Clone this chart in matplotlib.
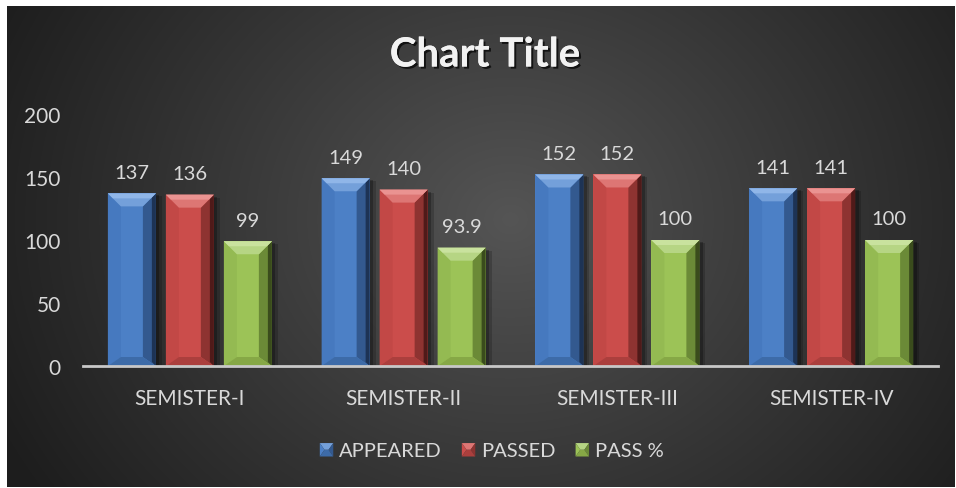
import numpy as np
import matplotlib
matplotlib.use("Agg")
import matplotlib.pyplot as plt
from matplotlib.patches import Polygon, Rectangle
from matplotlib.legend_handler import HandlerBase
import matplotlib.patheffects as pe

categories = ["SEMISTER-I", "SEMISTER-II", "SEMISTER-III", "SEMISTER-IV"]
appeared = [137, 149, 152, 141]
passed = [136, 140, 152, 141]
pass_pct = [99, 93.9, 100, 100]
series_names = ["APPEARED", "PASSED", "PASS %"]
yticks = [0, 50, 100, 150, 200]
title = "Chart Title"

FONT = ["Lato", "DejaVu Sans"]
plt.rcParams["font.family"] = FONT
TXT = "#d9d9d9"

palettes = [
    dict(face="#4c80c6", top="#74a0da", top2="#90b6e8", left="#4679bf", right="#33598f",
         outer="#1d3355", bottom="#3d6ba8"),
    dict(face="#cb4d4b", top="#dd7674", top2="#ea9391", left="#c24846", right="#8e3331",
         outer="#4f1a19", bottom="#ab3f3d"),
    dict(face="#9cc357", top="#b6d584", top2="#c9e29e", left="#94ba52", right="#6b8a37",
         outer="#3a4c1c", bottom="#86a846"),
]

W, H, DPI = 956, 489, 100
fig = plt.figure(figsize=(W / DPI, H / DPI), dpi=DPI, facecolor="white")

# background panel with radial gradient
bx0, by0, bx1, by1 = 7, 7, 955, 488
bg = fig.add_axes([bx0 / W, 1 - by1 / H, (bx1 - bx0) / W, (by1 - by0) / H])
bg.set_axis_off()
gh, gw = by1 - by0, bx1 - bx0
yy, xx = np.mgrid[0:gh, 0:gw]
cx, cy = 510 - bx0, 220 - by0
d = np.sqrt((xx - cx) ** 2 + ((yy - cy) * 1.15) ** 2)
t = np.clip(d / 560, 0, 1) ** 0.95
light = np.array([0x55, 0x55, 0x55]) / 255
dark = np.array([0x1e, 0x1e, 0x1e]) / 255
img = light[None, None, :] * (1 - t[..., None]) + dark[None, None, :] * t[..., None]
bg.imshow(img, aspect="auto", extent=[0, 1, 0, 1], origin="upper")
bg.set_xlim(0, 1); bg.set_ylim(0, 1)

# main axes
ax_l, ax_r, ax_top, ax_bot = 83, 938, 115, 367
ax = fig.add_axes([ax_l / W, 1 - ax_bot / H, (ax_r - ax_l) / W, (ax_bot - ax_top) / H])
ax.set_facecolor("none")
ax.set_ylim(0, 200)
ax.set_xlim(-0.5, len(categories) - 0.5)
for s in ["top", "right", "left"]:
    ax.spines[s].set_visible(False)
ax.spines["bottom"].set_color("#c8c8c8")
ax.spines["bottom"].set_linewidth(2)
ax.spines["bottom"].set_zorder(5)
ax.set_yticks(yticks)
ax.set_yticklabels([str(v) for v in yticks])
ax.tick_params(axis="y", length=0, pad=16, labelsize=15, labelcolor=TXT)
x = np.arange(len(categories))
ax.set_xticks(x)
ax.set_xticklabels(categories)
ax.tick_params(axis="x", length=0, pad=16, labelsize=15, labelcolor=TXT)

px_x = (ax_r - ax_l) / (len(categories))
px_y = (ax_bot - ax_top) / 200.0

bw = 48 / px_x
gap = 10 / px_x
offsets = [-(bw + gap), 0, bw + gap]
all_series = [appeared, passed, pass_pct]

for si, (vals, pal) in enumerate(zip(all_series, palettes)):
    xs = x + offsets[si]
    bars = ax.bar(xs, vals, width=bw, color=pal["face"], zorder=3, linewidth=0)
    for b, v in zip(bars, vals):
        x0 = b.get_x(); w = b.get_width(); h = b.get_height()
        bxd = 13 / px_x
        oxd = 4 / px_x
        tyd = 13 / px_y
        t2 = 5 / px_y
        byd = 9 / px_y
        # soft shadow
        ax.add_patch(Rectangle((x0 + 2 / px_x, 0), w + 4 / px_x, h - 3 / px_y, color="black",
                               alpha=0.18, zorder=2, linewidth=0))
        ax.add_patch(Rectangle((x0 + 2 / px_x, 0), w + 1.5 / px_x, h - 2 / px_y, color="black",
                               alpha=0.25, zorder=2, linewidth=0))
        polys = [
            ([(x0, 0), (x0, h), (x0 + bxd, h - tyd), (x0 + bxd, byd)], pal["left"]),
            ([(x0 + w, 0), (x0 + w, h), (x0 + w - bxd, h - tyd), (x0 + w - bxd, byd)], pal["right"]),
            ([(x0 + w, 0), (x0 + w, h), (x0 + w - oxd, h - oxd * px_x / px_y),
              (x0 + w - oxd, oxd * px_x / px_y)], pal["outer"]),
            ([(x0, 0), (x0 + w, 0), (x0 + w - bxd, byd), (x0 + bxd, byd)], pal["bottom"]),
            ([(x0, h), (x0 + w, h), (x0 + w - bxd, h - tyd), (x0 + bxd, h - tyd)], pal["top"]),
            ([(x0, h), (x0 + w, h), (x0 + w - t2 * px_y / px_x, h - t2), (x0 + t2 * px_y / px_x, h - t2)], pal["top2"]),
        ]
        for pts, c in polys:
            ax.add_patch(Polygon(pts, closed=True, facecolor=c, edgecolor="none", zorder=4))
        ax.annotate(f"{v:g}", (x0 + w / 2, h), xytext=(0, 9), textcoords="offset points",
                    ha="center", va="bottom", fontsize=14.5, color=TXT, zorder=6)


class BevelHandler(HandlerBase):
    def __init__(self, pal):
        super().__init__()
        self.pal = pal

    def create_artists(self, legend, orig_handle, xdescent, ydescent, width, height, fontsize, trans):
        s = height * 1.0
        x0 = width - s
        y0 = (height - s) / 2
        cxm, cym = x0 + s / 2, y0 + s / 2
        inset = s * 0.3
        p = self.pal
        arts = [
            Polygon([(x0, y0 + s), (x0 + s, y0 + s), (cxm + inset / 2, cym), (cxm - inset / 2, cym)], facecolor=p["top"], edgecolor="none", transform=trans),
            Polygon([(x0, y0), (x0, y0 + s), (cxm - inset / 2, cym)], facecolor=p["face"], edgecolor="none", transform=trans),
            Polygon([(x0 + s, y0), (x0 + s, y0 + s), (cxm + inset / 2, cym)], facecolor=p["right"], edgecolor="none", transform=trans),
            Polygon([(x0, y0), (x0 + s, y0), (cxm + inset / 2, cym), (cxm - inset / 2, cym)], facecolor=p["bottom"], edgecolor="none", transform=trans),
        ]
        return arts


handles = [Rectangle((0, 0), 1, 1, color=p["face"]) for p in palettes]
hmap = {h: BevelHandler(p) for h, p in zip(handles, palettes)}
fig.legend(handles, series_names, handler_map=hmap, loc="center", ncol=3,
           bbox_to_anchor=(492 / W, 1 - 452 / H), frameon=False, fontsize=14.5,
           labelcolor=TXT, handlelength=0.65, handleheight=0.65, handletextpad=0.3,
           columnspacing=1.0)

fig.text(485 / W, 1 - 56 / H, title, ha="center", va="center", fontsize=29,
         fontweight="bold", color="#f2f2f2",
         path_effects=[pe.withSimplePatchShadow(offset=(1.5, -1.5), shadow_rgbFace="black", alpha=0.7),
                       pe.Normal()])

fig.savefig("out.png", dpi=DPI, facecolor=fig.get_facecolor())
